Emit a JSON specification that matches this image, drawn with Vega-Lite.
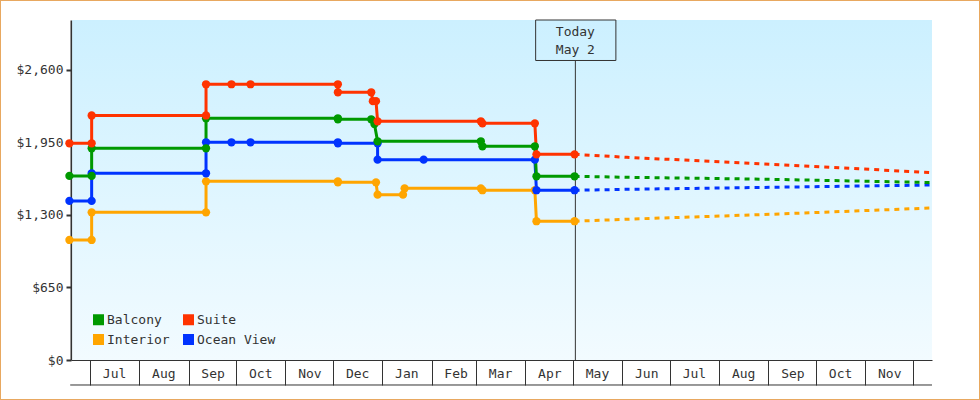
{
  "$schema": "https://vega.github.io/schema/vega-lite/v6.json",
  "width": 980,
  "height": 400,
  "padding": 0,
  "autosize": {"type": "none"},
  "background": "white",
  "view": {"stroke": "#e8a860", "strokeWidth": 2, "fill": "white"},
  "config": {
    "font": "DejaVu Sans Mono",
    "text": {"font": "DejaVu Sans Mono"}
  },
  "datasets": {
    "frame": [
      {"date": "2018-06-19T18:00:00Z", "date_end": "2019-12-13T00:00:00Z", "price": 0, "price_top": 3048}
    ],
    "floor": [
      {"date": "2018-06-18T12:00:00Z", "date_end": "2019-12-13T00:00:00Z", "price": -224}
    ],
    "today": [
      {"date": "2019-05-02T12:00:00Z", "price": 0, "price_top": 2685}
    ],
    "today_box": [
      {"date": "2019-04-07T12:00:00Z", "date_end": "2019-05-28T00:00:00Z", "price": 2685, "price_top": 3048}
    ],
    "today_label": [
      {"date": "2019-05-02T12:00:00Z", "price": 2941, "label": "Today"},
      {"date": "2019-05-02T12:00:00Z", "price": 2779, "label": "May 2"}
    ],
    "prices": [
      {"series": "Interior", "kind": "actual", "date": "2018-06-18", "price": 1076},
      {"series": "Interior", "kind": "actual", "date": "2018-07-02", "price": 1076},
      {"series": "Interior", "kind": "actual", "date": "2018-07-02", "price": 1324},
      {"series": "Interior", "kind": "actual", "date": "2018-09-12", "price": 1324},
      {"series": "Interior", "kind": "actual", "date": "2018-09-12", "price": 1602},
      {"series": "Interior", "kind": "actual", "date": "2018-12-04", "price": 1602},
      {"series": "Interior", "kind": "actual", "date": "2018-12-04", "price": 1593},
      {"series": "Interior", "kind": "actual", "date": "2018-12-28", "price": 1593},
      {"series": "Interior", "kind": "actual", "date": "2018-12-29", "price": 1482},
      {"series": "Interior", "kind": "actual", "date": "2019-01-14", "price": 1482},
      {"series": "Interior", "kind": "actual", "date": "2019-01-15", "price": 1539},
      {"series": "Interior", "kind": "actual", "date": "2019-03-04", "price": 1539},
      {"series": "Interior", "kind": "actual", "date": "2019-03-05", "price": 1522},
      {"series": "Interior", "kind": "actual", "date": "2019-04-07", "price": 1522},
      {"series": "Interior", "kind": "actual", "date": "2019-04-08", "price": 1244},
      {"series": "Interior", "kind": "actual", "date": "2019-05-02", "price": 1244},
      {"series": "Ocean View", "kind": "actual", "date": "2018-06-18", "price": 1426},
      {"series": "Ocean View", "kind": "actual", "date": "2018-07-02", "price": 1426},
      {"series": "Ocean View", "kind": "actual", "date": "2018-07-02", "price": 1674},
      {"series": "Ocean View", "kind": "actual", "date": "2018-09-12", "price": 1674},
      {"series": "Ocean View", "kind": "actual", "date": "2018-09-12", "price": 1952},
      {"series": "Ocean View", "kind": "actual", "date": "2018-09-28", "price": 1952},
      {"series": "Ocean View", "kind": "actual", "date": "2018-10-10", "price": 1952},
      {"series": "Ocean View", "kind": "actual", "date": "2018-12-04", "price": 1952},
      {"series": "Ocean View", "kind": "actual", "date": "2018-12-04", "price": 1943},
      {"series": "Ocean View", "kind": "actual", "date": "2018-12-29", "price": 1943},
      {"series": "Ocean View", "kind": "actual", "date": "2018-12-29", "price": 1796},
      {"series": "Ocean View", "kind": "actual", "date": "2019-01-27", "price": 1796},
      {"series": "Ocean View", "kind": "actual", "date": "2019-04-07", "price": 1796},
      {"series": "Ocean View", "kind": "actual", "date": "2019-04-08", "price": 1522},
      {"series": "Ocean View", "kind": "actual", "date": "2019-05-02", "price": 1522},
      {"series": "Balcony", "kind": "actual", "date": "2018-06-18", "price": 1650},
      {"series": "Balcony", "kind": "actual", "date": "2018-07-02", "price": 1650},
      {"series": "Balcony", "kind": "actual", "date": "2018-07-02", "price": 1898},
      {"series": "Balcony", "kind": "actual", "date": "2018-09-12", "price": 1898},
      {"series": "Balcony", "kind": "actual", "date": "2018-09-12", "price": 2167},
      {"series": "Balcony", "kind": "actual", "date": "2018-12-04", "price": 2167},
      {"series": "Balcony", "kind": "actual", "date": "2018-12-04", "price": 2158},
      {"series": "Balcony", "kind": "actual", "date": "2018-12-25", "price": 2158},
      {"series": "Balcony", "kind": "actual", "date": "2018-12-27", "price": 2116},
      {"series": "Balcony", "kind": "actual", "date": "2018-12-29", "price": 1961},
      {"series": "Balcony", "kind": "actual", "date": "2019-03-04", "price": 1961},
      {"series": "Balcony", "kind": "actual", "date": "2019-03-05", "price": 1916},
      {"series": "Balcony", "kind": "actual", "date": "2019-04-07", "price": 1916},
      {"series": "Balcony", "kind": "actual", "date": "2019-04-08", "price": 1647},
      {"series": "Balcony", "kind": "actual", "date": "2019-05-02", "price": 1647},
      {"series": "Suite", "kind": "actual", "date": "2018-06-18", "price": 1943},
      {"series": "Suite", "kind": "actual", "date": "2018-07-02", "price": 1943},
      {"series": "Suite", "kind": "actual", "date": "2018-07-02", "price": 2192},
      {"series": "Suite", "kind": "actual", "date": "2018-09-12", "price": 2192},
      {"series": "Suite", "kind": "actual", "date": "2018-09-12", "price": 2472},
      {"series": "Suite", "kind": "actual", "date": "2018-09-28", "price": 2472},
      {"series": "Suite", "kind": "actual", "date": "2018-10-10", "price": 2472},
      {"series": "Suite", "kind": "actual", "date": "2018-12-04", "price": 2472},
      {"series": "Suite", "kind": "actual", "date": "2018-12-04", "price": 2400},
      {"series": "Suite", "kind": "actual", "date": "2018-12-25", "price": 2400},
      {"series": "Suite", "kind": "actual", "date": "2018-12-26", "price": 2320},
      {"series": "Suite", "kind": "actual", "date": "2018-12-28", "price": 2320},
      {"series": "Suite", "kind": "actual", "date": "2018-12-29", "price": 2140},
      {"series": "Suite", "kind": "actual", "date": "2019-03-04", "price": 2140},
      {"series": "Suite", "kind": "actual", "date": "2019-03-05", "price": 2122},
      {"series": "Suite", "kind": "actual", "date": "2019-04-07", "price": 2122},
      {"series": "Suite", "kind": "actual", "date": "2019-04-08", "price": 1844},
      {"series": "Suite", "kind": "actual", "date": "2019-05-02", "price": 1844},
      {"series": "Interior", "kind": "forecast", "date": "2019-05-02", "price": 1244},
      {"series": "Interior", "kind": "forecast", "date": "2019-06-04", "price": 1262},
      {"series": "Interior", "kind": "forecast", "date": "2019-09-02", "price": 1306},
      {"series": "Interior", "kind": "forecast", "date": "2019-12-13", "price": 1363},
      {"series": "Ocean View", "kind": "forecast", "date": "2019-05-02", "price": 1522},
      {"series": "Ocean View", "kind": "forecast", "date": "2019-06-04", "price": 1530},
      {"series": "Ocean View", "kind": "forecast", "date": "2019-09-02", "price": 1548},
      {"series": "Ocean View", "kind": "forecast", "date": "2019-12-13", "price": 1569},
      {"series": "Balcony", "kind": "forecast", "date": "2019-05-02", "price": 1647},
      {"series": "Balcony", "kind": "forecast", "date": "2019-06-04", "price": 1638},
      {"series": "Balcony", "kind": "forecast", "date": "2019-09-02", "price": 1620},
      {"series": "Balcony", "kind": "forecast", "date": "2019-12-13", "price": 1591},
      {"series": "Suite", "kind": "forecast", "date": "2019-05-02", "price": 1844},
      {"series": "Suite", "kind": "forecast", "date": "2019-06-04", "price": 1817},
      {"series": "Suite", "kind": "forecast", "date": "2019-09-02", "price": 1755},
      {"series": "Suite", "kind": "forecast", "date": "2019-12-13", "price": 1680}
    ]
  },
  "encoding": {
    "x": {
      "field": "date",
      "type": "temporal",
      "title": null,
      "scale": {
        "type": "utc",
        "domain": [
          {"year": 2018, "month": 6, "date": 19, "utc": true},
          {"year": 2019, "month": 12, "date": 13, "utc": true}
        ],
        "range": [71, 932]
      },
      "axis": {
        "orient": "bottom",
        "offset": -40,
        "grid": false,
        "values": [
          {"year": 2018, "month": 7, "date": 1, "utc": true},
          {"year": 2018, "month": 8, "date": 1, "utc": true},
          {"year": 2018, "month": 9, "date": 1, "utc": true},
          {"year": 2018, "month": 10, "date": 1, "utc": true},
          {"year": 2018, "month": 11, "date": 1, "utc": true},
          {"year": 2018, "month": 12, "date": 1, "utc": true},
          {"year": 2019, "month": 1, "date": 1, "utc": true},
          {"year": 2019, "month": 2, "date": 1, "utc": true},
          {"year": 2019, "month": 3, "date": 1, "utc": true},
          {"year": 2019, "month": 4, "date": 1, "utc": true},
          {"year": 2019, "month": 5, "date": 1, "utc": true},
          {"year": 2019, "month": 6, "date": 1, "utc": true},
          {"year": 2019, "month": 7, "date": 1, "utc": true},
          {"year": 2019, "month": 8, "date": 1, "utc": true},
          {"year": 2019, "month": 9, "date": 1, "utc": true},
          {"year": 2019, "month": 10, "date": 1, "utc": true},
          {"year": 2019, "month": 11, "date": 1, "utc": true},
          {"year": 2019, "month": 12, "date": 1, "utc": true}
        ],
        "labelExpr": "utcmonth(datum.value) == 11 && utcyear(datum.value) == 2019 ? '' : utcFormat(datum.value, '%b')",
        "labelOffset": 24,
        "labelPadding": -18,
        "labelAngle": 0,
        "labelFlush": false,
        "labelOverlap": false,
        "labelBound": false,
        "labelFont": "DejaVu Sans Mono",
        "labelFontSize": 13,
        "labelColor": "#333333",
        "tickSize": 25,
        "tickWidth": 1,
        "tickColor": "#333333",
        "domainColor": "#333333",
        "domainWidth": 1
      }
    },
    "y": {
      "field": "price",
      "type": "quantitative",
      "title": null,
      "scale": {"domain": [0, 3048], "range": [360, 20], "nice": false, "zero": false},
      "axis": {
        "orient": "left",
        "offset": -71,
        "grid": false,
        "values": [0, 650, 1300, 1950, 2600],
        "format": "$,d",
        "labelFont": "DejaVu Sans Mono",
        "labelFontSize": 13,
        "labelColor": "#333333",
        "labelPadding": 3,
        "tickSize": 5,
        "tickWidth": 2,
        "tickColor": "#333333",
        "domainColor": "#333333",
        "domainWidth": 2
      }
    }
  },
  "layer": [
    {
      "data": {"name": "frame"},
      "mark": {
        "type": "rect",
        "clip": false,
        "color": {
          "gradient": "linear",
          "x1": 0,
          "y1": 0,
          "x2": 0,
          "y2": 1,
          "stops": [
            {"offset": 0, "color": "#ccf0ff"},
            {"offset": 1, "color": "#f2fbff"}
          ]
        }
      },
      "encoding": {
        "x2": {"field": "date_end"},
        "y2": {"field": "price_top"}
      }
    },
    {
      "data": {"name": "floor"},
      "mark": {"type": "rule", "color": "#333333", "strokeWidth": 1},
      "encoding": {
        "x2": {"field": "date_end"}
      }
    },
    {
      "data": {"name": "today"},
      "mark": {"type": "rule", "color": "#333333", "strokeWidth": 1},
      "encoding": {
        "y2": {"field": "price_top"}
      }
    },
    {
      "data": {"name": "today_box"},
      "mark": {"type": "rect", "fillOpacity": 0, "stroke": "#333333", "strokeWidth": 1},
      "encoding": {
        "x2": {"field": "date_end"},
        "y2": {"field": "price_top"}
      }
    },
    {
      "data": {"name": "today_label"},
      "mark": {"type": "text", "font": "DejaVu Sans Mono", "fontSize": 13, "color": "#333333"},
      "encoding": {
        "text": {"field": "label"}
      }
    },
    {
      "data": {"name": "prices"},
      "transform": [{"filter": "datum.kind == 'forecast'"}],
      "mark": {"type": "line", "strokeWidth": 3, "strokeDash": [5, 5]},
      "encoding": {
        "color": {"field": "series", "type": "nominal"}
      }
    },
    {
      "data": {"name": "prices"},
      "transform": [{"filter": "datum.kind == 'actual'"}],
      "mark": {"type": "line", "strokeWidth": 3},
      "encoding": {
        "color": {"field": "series", "type": "nominal"}
      }
    },
    {
      "data": {"name": "prices"},
      "transform": [{"filter": "datum.kind == 'actual'"}],
      "mark": {"type": "point", "filled": true, "opacity": 1, "size": 68, "shape": "circle"},
      "encoding": {
        "color": {
          "field": "series",
          "type": "nominal",
          "scale": {
            "domain": ["Balcony", "Suite", "Interior", "Ocean View"],
            "range": ["#009900", "#ff3300", "#ffa500", "#0033ff"]
          },
          "legend": {
            "title": null,
            "orient": "none",
            "legendX": 92,
            "legendY": 313,
            "columns": 2,
            "direction": "horizontal",
            "symbolType": "square",
            "symbolSize": 121,
            "symbolOpacity": 1,
            "symbolStrokeWidth": 0,
            "labelFont": "DejaVu Sans Mono",
            "labelFontSize": 13,
            "labelColor": "#333333",
            "labelOffset": 2,
            "columnPadding": 12,
            "rowPadding": 6
          }
        }
      }
    }
  ]
}
